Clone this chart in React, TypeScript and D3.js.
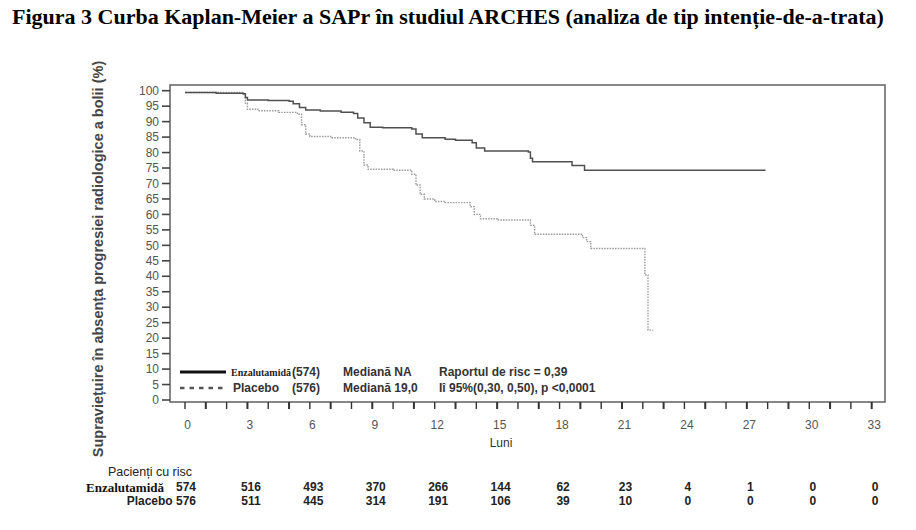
import React from "react";
import * as d3 from "d3";

// Kaplan-Meier step points: [month, % free of radiographic progression]
const enzaSteps: [number, number][] = [
  [0, 99.4], [1.5, 99.2], [2.8, 99.0], [2.9, 97.8], [3.0, 97.0], [4.0, 96.8],
  [5.0, 96.6], [5.2, 95.8], [5.5, 94.6], [5.8, 93.8], [6.5, 93.4], [7.5, 93.0],
  [8.1, 92.6], [8.3, 91.2], [8.6, 89.6], [8.9, 88.2], [9.5, 88.0], [10.9, 87.6],
  [11.1, 86.0], [11.4, 84.8], [12.5, 84.3], [13.0, 84.0], [13.8, 83.2],
  [14.0, 81.5], [14.4, 80.5], [16.5, 80.2], [16.6, 78.2], [16.7, 77.0],
  [18.6, 75.8], [19.2, 74.3], [27.9, 74.3],
];

const placeboSteps: [number, number][] = [
  [0, 99.4], [2.8, 98.8], [2.9, 96.0], [3.0, 94.0], [3.5, 93.5], [4.5, 93.0],
  [5.4, 92.4], [5.6, 89.0], [5.8, 86.0], [6.0, 85.2], [7.0, 84.8], [8.2, 84.2],
  [8.4, 80.5], [8.6, 76.0], [8.8, 74.6], [10.0, 74.3], [10.9, 73.0],
  [11.1, 69.5], [11.3, 66.5], [11.5, 65.0], [12.0, 64.2], [12.5, 63.8],
  [13.7, 62.5], [13.9, 60.0], [14.2, 58.6], [15.0, 58.2], [16.6, 56.5],
  [16.8, 53.6], [19.1, 52.5], [19.3, 51.2], [19.5, 49.0], [22.1, 40.4],
  [22.25, 22.6], [22.5, 22.6],
];

const xTickLabels = [0, 3, 6, 9, 12, 15, 18, 21, 24, 27, 30, 33];
const yTickLabels = d3.range(0, 101, 5);

const riskMonths = [3, 6, 9, 12, 15, 18, 21, 24, 27, 30, 33];
const enzaAtRisk = [516, 493, 370, 266, 144, 62, 23, 4, 1, 0, 0];
const placeboAtRisk = [511, 445, 314, 191, 106, 39, 10, 0, 0, 0, 0];

const SANS = "'Liberation Sans', Arial, sans-serif";
const SERIF = "'Liberation Serif', 'Times New Roman', serif";

export default function App() {
  const W = 916;
  const H = 530;
  const box = { left: 170, right: 885, top: 85, bottom: 402 };

  const x = d3.scaleLinear().domain([0, 33]).range([185, 871.7]);
  const y = d3.scaleLinear().domain([0, 100]).range([400, 90.7]);

  const line = d3
    .line<[number, number]>()
    .x((d) => x(d[0]))
    .y((d) => y(d[1]))
    .curve(d3.curveStepAfter);

  const monthTicks = d3.range(0, 34, 1);

  return (
    <svg
      width={W}
      height={H}
      style={{ position: "absolute", left: 0, top: 0, background: "#fff" }}
    >
      {/* Title */}
      <text
        x={12}
        y={24}
        fontFamily={SERIF}
        fontWeight="bold"
        fontSize={22}
        fill="#000"
      >
        Figura 3 Curba Kaplan-Meier a SAPr în studiul ARCHES (analiza de tip intenție-de-a-trata)
      </text>

      {/* Plot frame */}
      <rect
        x={box.left}
        y={box.top}
        width={box.right - box.left}
        height={box.bottom - box.top}
        fill="none"
        stroke="#6a6a6a"
        strokeWidth={1.6}
      />

      {/* Y axis ticks and labels */}
      {yTickLabels.map((v) => (
        <g key={"y" + v}>
          <line
            x1={box.left - 8}
            x2={box.left}
            y1={y(v)}
            y2={y(v)}
            stroke="#444"
            strokeWidth={1.6}
          />
          <text
            x={box.left - 11}
            y={y(v)}
            dy="0.35em"
            textAnchor="end"
            fontFamily={SANS}
            fontSize={12}
            fill="#555"
          >
            {v}
          </text>
        </g>
      ))}

      {/* X axis monthly ticks */}
      {monthTicks.map((m) => (
        <line
          key={"xt" + m}
          x1={x(m)}
          x2={x(m)}
          y1={box.bottom}
          y2={box.bottom + 7}
          stroke="#333"
          strokeWidth={m % 2 === 1 ? 2 : 1.4}
        />
      ))}
      {xTickLabels.map((m) => (
        <text
          key={"xl" + m}
          x={x(m) + 2.5}
          y={425}
          dy="0.35em"
          textAnchor="middle"
          fontFamily={SANS}
          fontSize={12}
          fill="#555"
        >
          {m}
        </text>
      ))}
      <text
        x={501}
        y={443}
        dy="0.35em"
        textAnchor="middle"
        fontFamily={SANS}
        fontSize={12}
        fill="#333"
      >
        Luni
      </text>

      {/* Y axis title */}
      <text
        transform="translate(98,259) rotate(-90)"
        textAnchor="middle"
        dy="0.35em"
        fontFamily={SANS}
        fontWeight="bold"
        fontSize={14.5}
        fill="#444"
      >
        Supraviețuire în absența progresiei radiologice a bolii (%)
      </text>

      {/* Survival curves */}
      <path
        d={line(placeboSteps) ?? ""}
        fill="none"
        stroke="#9a9a9a"
        strokeWidth={1.4}
        strokeDasharray="1.5,1.2"
      />
      <path
        d={line(enzaSteps) ?? ""}
        fill="none"
        stroke="#505050"
        strokeWidth={1.5}
      />

      {/* Legend */}
      <line x1={180} x2={226} y1={372} y2={372} stroke="#111" strokeWidth={3} />
      <line
        x1={180}
        x2={226}
        y1={388}
        y2={388}
        stroke="#555"
        strokeWidth={2.6}
        strokeDasharray="4.5,5"
      />
      <text x={231} y={376} fontFamily={SERIF} fontWeight="bold" fontSize={10} fill="#222">
        Enzalutamidă
      </text>
      <text x={292} y={376} fontFamily={SANS} fontWeight="bold" fontSize={12} fill="#333">
        (574)
      </text>
      <text x={233} y={392} fontFamily={SANS} fontWeight="bold" fontSize={12} fill="#333">
        Placebo
      </text>
      <text x={292} y={392} fontFamily={SANS} fontWeight="bold" fontSize={12} fill="#333">
        (576)
      </text>
      <text x={343} y={376} fontFamily={SANS} fontWeight="bold" fontSize={12} fill="#333">
        Mediană NA
      </text>
      <text x={343} y={392} fontFamily={SANS} fontWeight="bold" fontSize={12} fill="#333">
        Mediană 19,0
      </text>
      <text x={439} y={376} fontFamily={SANS} fontWeight="bold" fontSize={12} fill="#333">
        Raportul de risc = 0,39
      </text>
      <text x={439} y={392} fontFamily={SANS} fontWeight="bold" fontSize={12} fill="#333">
        Iî 95%(0,30, 0,50), p &lt;0,0001
      </text>

      {/* Number at risk table */}
      <text x={108} y={472} dy="0.35em" fontFamily={SANS} fontSize={12.5} fill="#222">
        Pacienți cu risc
      </text>
      <text x={86} y={487} dy="0.35em" fontFamily={SERIF} fontWeight="bold" fontSize={13} fill="#111">
        Enzalutamidă
      </text>
      <text x={196} y={487} dy="0.35em" textAnchor="end" fontFamily={SANS} fontWeight="bold" fontSize={12} fill="#222">
        574
      </text>
      <text x={196} y={501} dy="0.35em" textAnchor="end" fontFamily={SANS} fontWeight="bold" fontSize={12} fill="#222">
        Placebo 576
      </text>
      {riskMonths.map((m, i) => (
        <g key={"r" + m}>
          <text
            x={x(m) + 3.5}
            y={487}
            dy="0.35em"
            textAnchor="middle"
            fontFamily={SANS}
            fontWeight="bold"
            fontSize={12}
            fill="#222"
          >
            {enzaAtRisk[i]}
          </text>
          <text
            x={x(m) + 3.5}
            y={501}
            dy="0.35em"
            textAnchor="middle"
            fontFamily={SANS}
            fontWeight="bold"
            fontSize={12}
            fill="#222"
          >
            {placeboAtRisk[i]}
          </text>
        </g>
      ))}
    </svg>
  );
}
